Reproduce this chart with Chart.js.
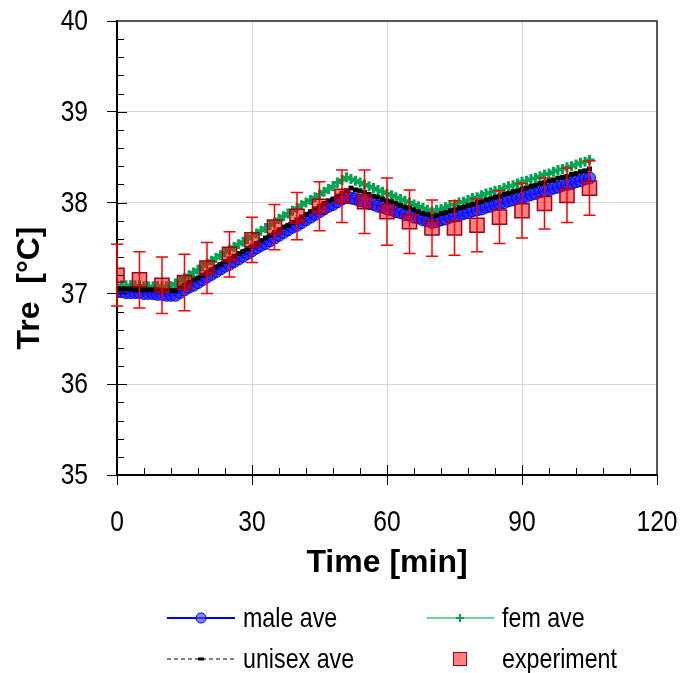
<!DOCTYPE html>
<html>
<head>
<meta charset="utf-8">
<script src="https://cdn.jsdelivr.net/npm/chart.js@4.4.1/dist/chart.umd.min.js"></script>
<style>
  body { margin: 0; background: #fff; }
  #wrap { position: relative; width: 681px; height: 673px; }
  .lg { position: absolute; font-family: 'Liberation Sans', Arial, sans-serif; font-size: 28px; line-height: 32px; color: #000; white-space: nowrap; transform: scaleX(0.83); transform-origin: 0 0; }
  #sw { position: absolute; left: 0; top: 590px; }
</style>
</head>
<body>
<div id="wrap">
  <canvas id="chart" width="681" height="673"></canvas>
  <svg id="sw" width="681" height="83">
    <line x1="167" y1="28" x2="235" y2="28" stroke="#0000ff" stroke-width="2"/>
    <circle cx="201" cy="28" r="5" fill="rgba(70,70,255,0.65)" stroke="#0000ff" stroke-width="1"/>
    <line x1="427" y1="28" x2="494" y2="28" stroke="#3cc47c" stroke-width="1.5"/>
    <path d="M456 28 H464 M460 24 V32" stroke="#00a550" stroke-width="2"/>
    <line x1="167" y1="69" x2="235" y2="69" stroke="#000" stroke-width="1" stroke-dasharray="4,3"/>
    <rect x="198" y="67.5" width="6" height="3" fill="#000"/>
    <rect x="453.5" y="62.5" width="13" height="13" fill="rgba(255,0,0,0.5)" stroke="#a0001c" stroke-width="1"/>
  </svg>
  <div class="lg" style="left:243px; top:602px">male ave</div>
  <div class="lg" style="left:502px; top:602px">fem ave</div>
  <div class="lg" style="left:243px; top:643px">unisex ave</div>
  <div class="lg" style="left:502px; top:643px">experiment</div>
</div>
<script>
// model curves, one value per minute (0..105)
const minutes = Array.from({length: 106}, (_, i) => i);

const maleAve = [
  37.02,37.02,37.01,37.01,37.01,37.01,37.00,37.00,37.00,36.99,
  36.99,36.98,36.98,36.98,37.01,37.04,37.07,37.09,37.12,37.15,
  37.18,37.21,37.24,37.27,37.30,37.32,37.35,37.38,37.41,37.44,
  37.47,37.50,37.53,37.55,37.58,37.61,37.64,37.67,37.70,37.73,
  37.75,37.78,37.81,37.84,37.87,37.90,37.93,37.96,37.98,38.01,
  38.04,38.07,38.05,38.04,38.02,38.01,37.99,37.98,37.96,37.95,
  37.93,37.92,37.90,37.89,37.87,37.86,37.84,37.83,37.81,37.80,
  37.78,37.79,37.81,37.82,37.84,37.85,37.86,37.88,37.89,37.91,
  37.92,37.93,37.95,37.96,37.98,37.99,38.00,38.02,38.03,38.05,
  38.06,38.07,38.09,38.10,38.12,38.13,38.14,38.16,38.17,38.19,
  38.20,38.21,38.23,38.24,38.26,38.27
];

const femAve = [
  37.09,37.09,37.09,37.09,37.09,37.09,37.08,37.08,37.08,37.08,
  37.08,37.08,37.08,37.11,37.14,37.17,37.20,37.23,37.26,37.30,
  37.33,37.36,37.39,37.42,37.45,37.48,37.51,37.54,37.57,37.60,
  37.63,37.66,37.69,37.72,37.75,37.78,37.82,37.85,37.88,37.91,
  37.94,37.97,38.00,38.03,38.06,38.09,38.12,38.15,38.18,38.22,
  38.25,38.28,38.26,38.24,38.22,38.20,38.18,38.16,38.14,38.12,
  38.10,38.08,38.06,38.04,38.02,38.00,37.98,37.96,37.94,37.92,
  37.90,37.92,37.93,37.95,37.97,37.98,38.00,38.01,38.03,38.05,
  38.06,38.08,38.10,38.11,38.13,38.14,38.16,38.18,38.19,38.21,
  38.23,38.24,38.26,38.27,38.29,38.31,38.32,38.34,38.36,38.37,
  38.39,38.40,38.42,38.44,38.45,38.47
];

const unisexAve = [
  37.05,37.05,37.05,37.05,37.04,37.04,37.04,37.04,37.04,37.04,
  37.03,37.03,37.03,37.03,37.06,37.09,37.12,37.15,37.17,37.20,
  37.23,37.26,37.29,37.32,37.35,37.38,37.41,37.44,37.46,37.49,
  37.52,37.55,37.58,37.61,37.64,37.67,37.70,37.73,37.75,37.78,
  37.81,37.84,37.87,37.90,37.93,37.96,37.99,38.02,38.04,38.07,
  38.10,38.13,38.16,38.14,38.13,38.11,38.09,38.07,38.06,38.04,
  38.02,38.01,37.99,37.97,37.95,37.94,37.92,37.90,37.88,37.87,
  37.85,37.86,37.88,37.89,37.91,37.92,37.94,37.95,37.97,37.98,
  38.00,38.01,38.03,38.04,38.06,38.07,38.09,38.10,38.12,38.13,
  38.15,38.16,38.18,38.19,38.21,38.22,38.24,38.25,38.27,38.28,
  38.29,38.31,38.32,38.34,38.35,38.37
];

// measured rectal temperature, mean and SD every 5 min
const expMinutes = [0,5,10,15,20,25,30,35,40,45,50,55,60,65,70,75,80,85,90,95,100,105];
const expMean = [37.20,37.15,37.09,37.12,37.28,37.43,37.59,37.73,37.85,37.96,38.07,38.01,37.90,37.79,37.72,37.72,37.75,37.84,37.91,37.99,38.08,38.16];
const expSd   = [0.34,0.31,0.31,0.31,0.28,0.25,0.25,0.25,0.26,0.27,0.29,0.35,0.37,0.35,0.31,0.30,0.29,0.29,0.30,0.28,0.30,0.30];

const xTickLabels = [0, 30, 60, 90, 120];
const yTickLabels = [35, 36, 37, 38, 39, 40];

const sans = "'Liberation Sans', Arial, sans-serif";

function pts(xs, ys) {
  return ys.map((v, i) => ({x: xs[i], y: v}));
}

const errorBars = {
  id: 'errorBars',
  beforeDatasetDraw(chart, args) {
    if (args.index !== 3) return;
    const {ctx, scales: {x, y}} = chart;
    ctx.save();
    ctx.strokeStyle = '#ff0000';
    ctx.lineWidth = 1.5;
    expMinutes.forEach((t, i) => {
      const px = x.getPixelForValue(t);
      const top = y.getPixelForValue(expMean[i] + expSd[i]);
      const bot = y.getPixelForValue(expMean[i] - expSd[i]);
      ctx.beginPath();
      ctx.moveTo(px, top); ctx.lineTo(px, bot);
      ctx.moveTo(px - 6, top); ctx.lineTo(px + 6, top);
      ctx.moveTo(px - 6, bot); ctx.lineTo(px + 6, bot);
      ctx.stroke();
    });
    ctx.restore();
  }
};

// minor ticks inside the axes, box frame, and narrow tick labels
const frame = {
  id: 'frame',
  afterDraw(chart) {
    const {ctx, chartArea: a, scales: {x, y}} = chart;
    ctx.save();
    ctx.strokeStyle = '#000';
    ctx.lineWidth = 1;
    ctx.beginPath();
    for (let m = 6; m < 120; m += 6) {
      const px = Math.round(x.getPixelForValue(m)) + 0.5;
      const len = m % 30 === 0 ? 10 : 7;
      ctx.moveTo(px, a.bottom); ctx.lineTo(px, a.bottom - len);
    }
    for (let k = 1; k < 25; k++) {
      const py = Math.round(y.getPixelForValue(35 + k * 0.2)) + 0.5;
      const len = k % 5 === 0 ? 10 : 7;
      ctx.moveTo(a.left, py); ctx.lineTo(a.left + len, py);
    }
    ctx.stroke();
    ctx.lineWidth = 1.5;
    ctx.strokeStyle = '#222';
    ctx.beginPath();
    ctx.moveTo(a.left, a.top); ctx.lineTo(a.right, a.top); ctx.lineTo(a.right, a.bottom);
    ctx.stroke();

    ctx.fillStyle = '#000';
    ctx.font = '30px ' + sans;
    ctx.textBaseline = 'middle';
    xTickLabels.forEach(v => {
      ctx.save();
      ctx.translate(x.getPixelForValue(v), a.bottom + 48);
      ctx.scale(0.82, 1);
      ctx.textAlign = 'center';
      ctx.fillText(String(v), 0, 0);
      ctx.restore();
    });
    yTickLabels.forEach(v => {
      ctx.save();
      ctx.translate(a.left - 29, y.getPixelForValue(v) + 1);
      ctx.scale(0.82, 1);
      ctx.textAlign = 'right';
      ctx.fillText(String(v), 0, 0);
      ctx.restore();
    });
    ctx.restore();
  }
};

const edgeGrid = (c) => {
  const v = c.tick && c.tick.value;
  return (v === 0 || v === 120 || v === 35 || v === 40) ? 'rgba(0,0,0,0)' : '#d6d6d6';
};

new Chart(document.getElementById('chart'), {
  type: 'line',
  data: {
    datasets: [
      {
        label: 'unisex ave',
        data: pts(minutes, unisexAve),
        borderColor: '#000',
        borderWidth: 1,
        borderDash: [4, 3],
        pointStyle: 'rect',
        pointRadius: 3.5,
        pointBackgroundColor: '#000',
        pointBorderColor: '#000',
        pointBorderWidth: 0,
        order: 1
      },
      {
        label: 'fem ave',
        data: pts(minutes, femAve),
        borderColor: '#3cc47c',
        borderWidth: 1,
        pointStyle: 'cross',
        pointRadius: 5,
        pointBorderColor: '#00a550',
        pointBorderWidth: 3,
        order: 2
      },
      {
        label: 'male ave',
        data: pts(minutes, maleAve),
        borderColor: '#0000ff',
        borderWidth: 2,
        pointRadius: 6,
        pointBackgroundColor: 'rgba(30,30,255,0.7)',
        pointBorderColor: '#0000ee',
        pointBorderWidth: 1,
        order: 3
      },
      {
        label: 'experiment',
        data: pts(expMinutes, expMean),
        showLine: false,
        pointStyle: 'rect',
        pointRadius: 10,
        pointBackgroundColor: 'rgba(255,0,0,0.5)',
        pointBorderColor: '#a0001c',
        pointBorderWidth: 1.5,
        order: 0
      }
    ]
  },
  options: {
    responsive: false,
    animation: false,
    devicePixelRatio: 1,
    layout: { padding: { left: 0, top: 21, right: 24, bottom: 88 } },
    plugins: { legend: { display: false }, tooltip: { enabled: false } },
    scales: {
      x: {
        type: 'linear',
        min: 0, max: 120,
        ticks: { stepSize: 30, display: false },
        grid: { color: edgeGrid, tickColor: '#000', tickLength: 10 },
        border: { display: true, color: '#000', width: 2 },
        title: { display: true, text: 'Time [min]', color: '#000', padding: { top: 0, bottom: 3 }, font: { family: sans, size: 32, weight: 'bold' } },
        afterFit: (axis) => { axis.height = 110; }
      },
      y: {
        min: 35, max: 40,
        ticks: { stepSize: 1, display: false },
        grid: { color: edgeGrid, tickColor: '#000', tickLength: 10 },
        border: { display: true, color: '#000', width: 2 },
        title: { display: true, text: 'Tre  [°C]' + '\u00a0'.repeat(9), color: '#000', padding: { top: 11, bottom: 0 }, font: { family: sans, size: 32, weight: 'bold' } },
        afterFit: (axis) => { axis.width = 117; }
      }
    }
  },
  plugins: [errorBars, frame]
});
</script>
</body>
</html>
